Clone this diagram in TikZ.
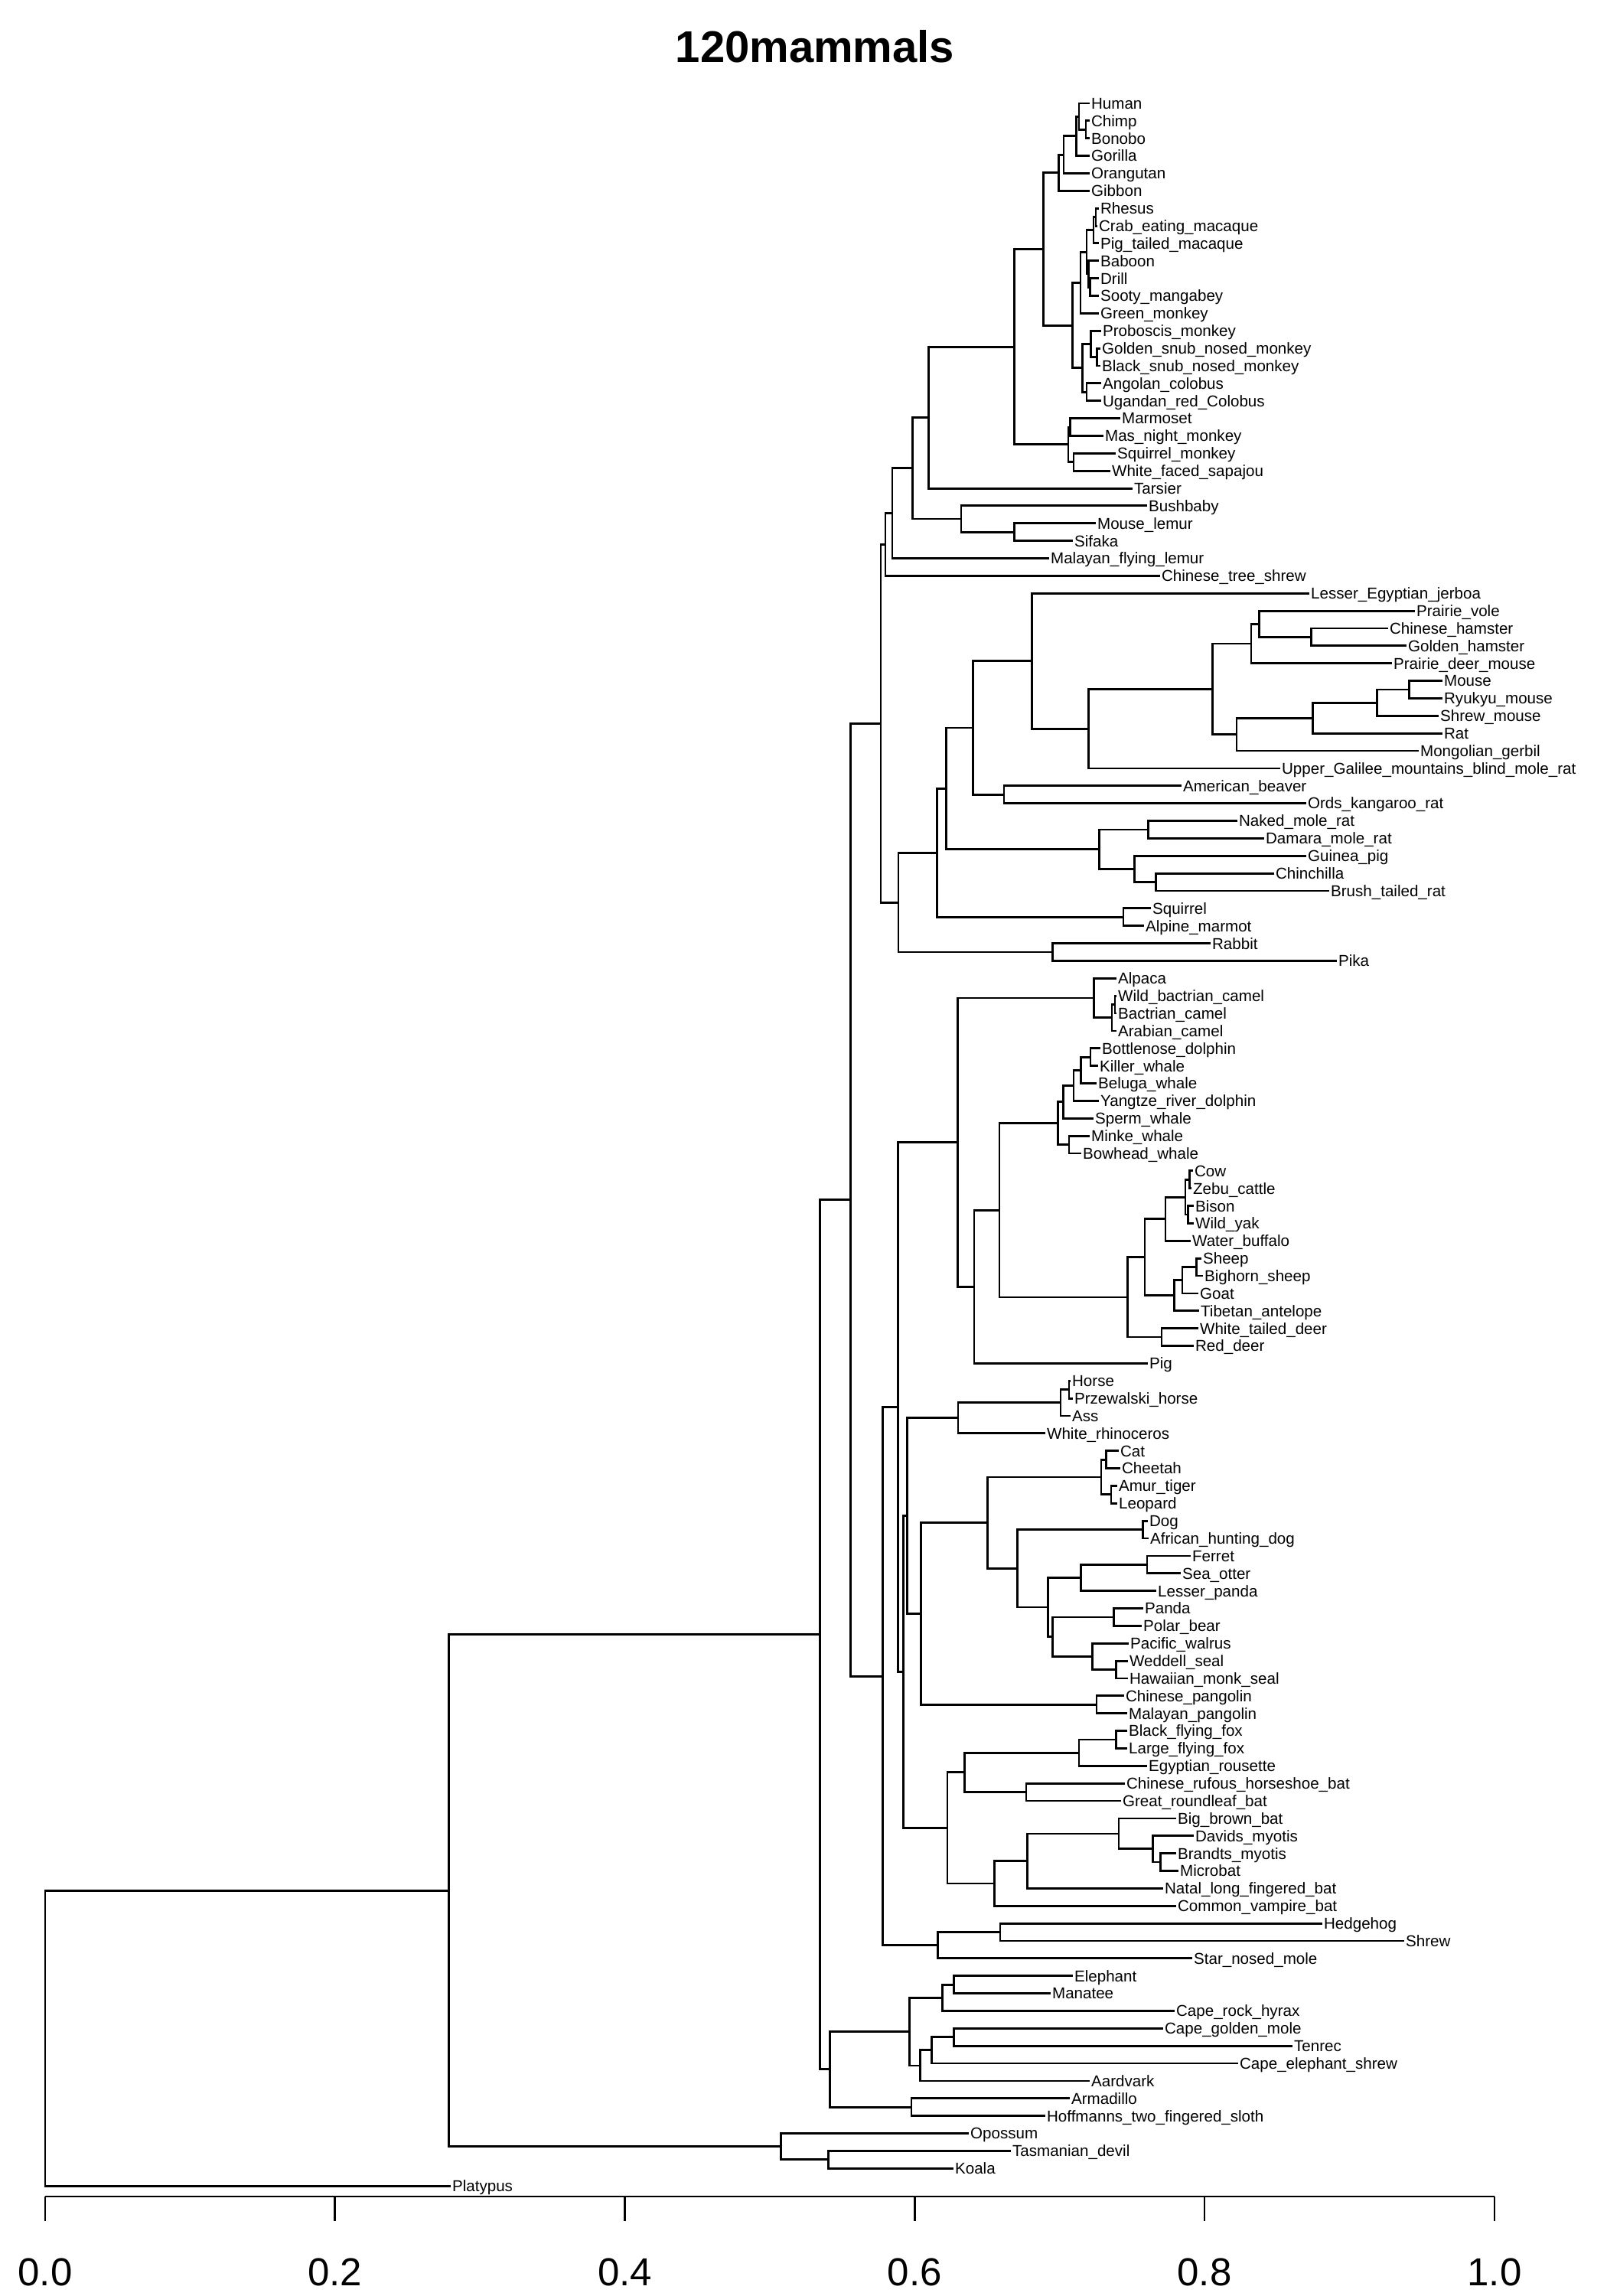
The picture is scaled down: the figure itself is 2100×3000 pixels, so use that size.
\documentclass[tikz,border=0pt]{standalone}
\usepackage{fontspec}
\setmainfont{Liberation Sans}
\usetikzlibrary{calc}

% internal node: name, x, first child, second child
\newcommand\clade[4]{%
  \path ($(#3)!.5!(#4)$) coordinate (#1-m);
  \coordinate (#1) at (#1-m -| #2,0);
  \draw[branch] (#1) |- (#3) (#1) |- (#4);}

\begin{document}
\begin{tikzpicture}[x=0.01cm,y=-0.01cm,
  branch/.style={line width=0.8pt},
  leaf/.style={anchor=west,inner xsep=0.6pt,inner ysep=0pt,outer sep=0pt,
    text height=4.2pt,text depth=0pt,font=\fontsize{5.85}{7}\selectfont},
  ticklabel/.style={inner sep=0pt,font=\fontsize{14.5}{17}\selectfont}]
\useasboundingbox (0,0) rectangle (2100,3000);
\node[inner sep=0pt,font=\bfseries\fontsize{16.5}{20}\selectfont] (title) at (1065,61) {120mammals};

% primates and relatives
\node[leaf] (human) at (1424,135.0) {Human};
\node[leaf] (chimp) at (1424,157.9) {Chimp};
\node[leaf] (bonobo) at (1424,180.7) {Bonobo};
\node[leaf] (gorilla) at (1424,203.6) {Gorilla};
\node[leaf] (orangutan) at (1424,226.5) {Orangutan};
\node[leaf] (gibbon) at (1424,249.3) {Gibbon};
\node[leaf] (rhesus) at (1436,272.2) {Rhesus};
\node[leaf] (crab) at (1434,295.1) {Crab\_eating\_macaque};
\node[leaf] (pigtailed) at (1436,317.9) {Pig\_tailed\_macaque};
\node[leaf] (baboon) at (1436,340.8) {Baboon};
\node[leaf] (drill) at (1436,363.7) {Drill};
\node[leaf] (sooty) at (1436,386.5) {Sooty\_mangabey};
\node[leaf] (greenmonkey) at (1436,409.4) {Green\_monkey};
\node[leaf] (proboscis) at (1439,432.3) {Proboscis\_monkey};
\node[leaf] (goldensnub) at (1438,455.1) {Golden\_snub\_nosed\_monkey};
\node[leaf] (blacksnub) at (1438,478.0) {Black\_snub\_nosed\_monkey};
\node[leaf] (angolan) at (1439,500.9) {Angolan\_colobus};
\node[leaf] (ugandan) at (1439,523.7) {Ugandan\_red\_Colobus};
\node[leaf] (marmoset) at (1464,546.6) {Marmoset};
\node[leaf] (nightmonkey) at (1442,569.5) {Mas\_night\_monkey};
\node[leaf] (squirrelmonkey) at (1458,592.3) {Squirrel\_monkey};
\node[leaf] (sapajou) at (1451,615.2) {White\_faced\_sapajou};
\node[leaf] (tarsier) at (1480,638.1) {Tarsier};
\node[leaf] (bushbaby) at (1499,660.9) {Bushbaby};
\node[leaf] (mouselemur) at (1432,683.8) {Mouse\_lemur};
\node[leaf] (sifaka) at (1402,706.7) {Sifaka};
\node[leaf] (flyinglemur) at (1371,729.5) {Malayan\_flying\_lemur};
\node[leaf] (treeshrew) at (1516,752.4) {Chinese\_tree\_shrew};
% rodents and lagomorphs
\node[leaf] (jerboa) at (1711,775.2) {Lesser\_Egyptian\_jerboa};
\node[leaf] (vole) at (1849,798.1) {Prairie\_vole};
\node[leaf] (chhamster) at (1814,821.0) {Chinese\_hamster};
\node[leaf] (gdhamster) at (1838,843.8) {Golden\_hamster};
\node[leaf] (deermouse) at (1819,866.7) {Prairie\_deer\_mouse};
\node[leaf] (mouse) at (1885,889.6) {Mouse};
\node[leaf] (ryukyu) at (1885,912.4) {Ryukyu\_mouse};
\node[leaf] (shrewmouse) at (1880,935.3) {Shrew\_mouse};
\node[leaf] (rat) at (1885,958.2) {Rat};
\node[leaf] (gerbil) at (1854,981.0) {Mongolian\_gerbil};
\node[leaf] (blindmolerat) at (1673,1003.9) {Upper\_Galilee\_mountains\_blind\_mole\_rat};
\node[leaf] (beaver) at (1544,1026.8) {American\_beaver};
\node[leaf] (kangaroorat) at (1707,1049.6) {Ords\_kangaroo\_rat};
\node[leaf] (nakedmolerat) at (1617,1072.5) {Naked\_mole\_rat};
\node[leaf] (damara) at (1652,1095.4) {Damara\_mole\_rat};
\node[leaf] (guineapig) at (1707,1118.2) {Guinea\_pig};
\node[leaf] (chinchilla) at (1665,1141.1) {Chinchilla};
\node[leaf] (brushtailed) at (1737,1164.0) {Brush\_tailed\_rat};
\node[leaf] (squirrel) at (1504,1186.8) {Squirrel};
\node[leaf] (marmot) at (1495,1209.7) {Alpine\_marmot};
\node[leaf] (rabbit) at (1582,1232.6) {Rabbit};
\node[leaf] (pika) at (1747,1255.4) {Pika};
% laurasiatheria
\node[leaf] (alpaca) at (1459,1278.3) {Alpaca};
\node[leaf] (wildcamel) at (1459,1301.2) {Wild\_bactrian\_camel};
\node[leaf] (bactrian) at (1459,1324.0) {Bactrian\_camel};
\node[leaf] (arabian) at (1459,1346.9) {Arabian\_camel};
\node[leaf] (bottlenose) at (1438,1369.8) {Bottlenose\_dolphin};
\node[leaf] (killerwhale) at (1435,1392.6) {Killer\_whale};
\node[leaf] (beluga) at (1433,1415.5) {Beluga\_whale};
\node[leaf] (yangtze) at (1436,1438.4) {Yangtze\_river\_dolphin};
\node[leaf] (spermwhale) at (1429,1461.2) {Sperm\_whale};
\node[leaf] (minke) at (1424,1484.1) {Minke\_whale};
\node[leaf] (bowhead) at (1413,1507.0) {Bowhead\_whale};
\node[leaf] (cow) at (1559,1529.8) {Cow};
\node[leaf] (zebu) at (1557,1552.7) {Zebu\_cattle};
\node[leaf] (bison) at (1560,1575.6) {Bison};
\node[leaf] (yak) at (1560,1598.4) {Wild\_yak};
\node[leaf] (buffalo) at (1556,1621.3) {Water\_buffalo};
\node[leaf] (sheep) at (1570,1644.2) {Sheep};
\node[leaf] (bighorn) at (1572,1667.0) {Bighorn\_sheep};
\node[leaf] (goat) at (1566,1689.9) {Goat};
\node[leaf] (tibetan) at (1567,1712.8) {Tibetan\_antelope};
\node[leaf] (whitetailed) at (1566,1735.6) {White\_tailed\_deer};
\node[leaf] (reddeer) at (1560,1758.5) {Red\_deer};
\node[leaf] (pig) at (1500,1781.4) {Pig};
\node[leaf] (horse) at (1399,1804.2) {Horse};
\node[leaf] (przewalski) at (1402,1827.1) {Przewalski\_horse};
\node[leaf] (ass) at (1399,1850.0) {Ass};
\node[leaf] (rhino) at (1366,1872.8) {White\_rhinoceros};
\node[leaf] (cat) at (1462,1895.7) {Cat};
\node[leaf] (cheetah) at (1464,1918.5) {Cheetah};
\node[leaf] (tiger) at (1460,1941.4) {Amur\_tiger};
\node[leaf] (leopard) at (1460,1964.3) {Leopard};
\node[leaf] (dog) at (1500,1987.1) {Dog};
\node[leaf] (huntingdog) at (1501,2010.0) {African\_hunting\_dog};
\node[leaf] (ferret) at (1556,2032.9) {Ferret};
\node[leaf] (seaotter) at (1543,2055.7) {Sea\_otter};
\node[leaf] (lesserpanda) at (1511,2078.6) {Lesser\_panda};
\node[leaf] (panda) at (1494,2101.5) {Panda};
\node[leaf] (polarbear) at (1492,2124.3) {Polar\_bear};
\node[leaf] (walrus) at (1475,2147.2) {Pacific\_walrus};
\node[leaf] (weddell) at (1474,2170.1) {Weddell\_seal};
\node[leaf] (monkseal) at (1474,2192.9) {Hawaiian\_monk\_seal};
\node[leaf] (chpangolin) at (1469,2215.8) {Chinese\_pangolin};
\node[leaf] (mypangolin) at (1473,2238.7) {Malayan\_pangolin};
\node[leaf] (blackfox) at (1473,2261.5) {Black\_flying\_fox};
\node[leaf] (largefox) at (1473,2284.4) {Large\_flying\_fox};
\node[leaf] (rousette) at (1499,2307.3) {Egyptian\_rousette};
\node[leaf] (horseshoe) at (1470,2330.1) {Chinese\_rufous\_horseshoe\_bat};
\node[leaf] (roundleaf) at (1465,2353.0) {Great\_roundleaf\_bat};
\node[leaf] (bigbrown) at (1537,2375.9) {Big\_brown\_bat};
\node[leaf] (davids) at (1560,2398.7) {Davids\_myotis};
\node[leaf] (brandts) at (1537,2421.6) {Brandts\_myotis};
\node[leaf] (microbat) at (1540,2444.5) {Microbat};
\node[leaf] (natal) at (1520,2467.3) {Natal\_long\_fingered\_bat};
\node[leaf] (vampire) at (1537,2490.2) {Common\_vampire\_bat};
\node[leaf] (hedgehog) at (1728,2513.1) {Hedgehog};
\node[leaf] (shrew) at (1835,2535.9) {Shrew};
\node[leaf] (starnosed) at (1558,2558.8) {Star\_nosed\_mole};
% afrotheria, xenarthra, marsupials, monotreme
\node[leaf] (elephant) at (1402,2581.7) {Elephant};
\node[leaf] (manatee) at (1373,2604.5) {Manatee};
\node[leaf] (hyrax) at (1535,2627.4) {Cape\_rock\_hyrax};
\node[leaf] (goldenmole) at (1520,2650.3) {Cape\_golden\_mole};
\node[leaf] (tenrec) at (1689,2673.1) {Tenrec};
\node[leaf] (elephantshrew) at (1618,2696.0) {Cape\_elephant\_shrew};
\node[leaf] (aardvark) at (1424,2718.9) {Aardvark};
\node[leaf] (armadillo) at (1398,2741.7) {Armadillo};
\node[leaf] (sloth) at (1366,2764.6) {Hoffmanns\_two\_fingered\_sloth};
\node[leaf] (opossum) at (1266,2787.5) {Opossum};
\node[leaf] (devil) at (1321,2810.3) {Tasmanian\_devil};
\node[leaf] (koala) at (1246,2833.2) {Koala};
\node[leaf] (platypus) at (589,2856.1) {Platypus};

% internal nodes, children first
\clade{pan}{1419}{chimp}{bonobo}
\clade{hp}{1410}{human}{pan}
\clade{homininae}{1406.6}{hp}{gorilla}
\clade{hominidae}{1390}{homininae}{orangutan}
\clade{hominoidea}{1383.6}{hominidae}{gibbon}
\clade{rc}{1432}{rhesus}{crab}
\clade{macaca}{1429}{rc}{pigtailed}
\clade{ds}{1424.7}{drill}{sooty}
\clade{bds}{1422.8}{baboon}{ds}
\clade{papionini}{1420}{macaca}{bds}
\clade{cercopithecinae}{1412}{papionini}{greenmonkey}
\clade{snub}{1433.8}{goldensnub}{blacksnub}
\clade{rhinopith}{1425.7}{proboscis}{snub}
\clade{colobus}{1420}{angolan}{ugandan}
\clade{colobinae}{1414.7}{rhinopith}{colobus}
\clade{cercopithecidae}{1401.8}{cercopithecinae}{colobinae}
\clade{catarrhini}{1363.5}{hominoidea}{cercopithecidae}
\clade{callitrich}{1398.4}{marmoset}{nightmonkey}
\clade{cebidae}{1403}{squirrelmonkey}{sapajou}
\clade{platyrrhini}{1396}{callitrich}{cebidae}
\clade{anthropoidea}{1325.3}{catarrhini}{platyrrhini}
\clade{haplorhini}{1213.3}{anthropoidea}{tarsier}
\clade{lemurs}{1325.3}{mouselemur}{sifaka}
\clade{strepsirrhini}{1255.9}{bushbaby}{lemurs}
\clade{primates}{1192.8}{haplorhini}{strepsirrhini}
\clade{primatomorpha}{1166}{primates}{flyinglemur}
\clade{euarchonta}{1156.9}{primatomorpha}{treeshrew}

\clade{hamsters}{1713.4}{chhamster}{gdhamster}
\clade{arvicolinae}{1645.4}{vole}{hamsters}
\clade{cricetidae}{1634.9}{arvicolinae}{deermouse}
\clade{mus}{1841.8}{mouse}{ryukyu}
\clade{mice}{1799.7}{mus}{shrewmouse}
\clade{murinae}{1715.5}{mice}{rat}
\clade{muridae}{1616}{murinae}{gerbil}
\clade{eumuroida}{1584.3}{cricetidae}{muridae}
\clade{muroidea}{1422.3}{eumuroida}{blindmolerat}
\clade{myomorpha}{1348.7}{jerboa}{muroidea}
\clade{castorimorpha}{1312}{beaver}{kangaroorat}
\clade{mouserel}{1271.5}{myomorpha}{castorimorpha}
\clade{molerats}{1500.2}{nakedmolerat}{damara}
\clade{chinbrush}{1510.7}{chinchilla}{brushtailed}
\clade{caviomorpha}{1482.6}{guineapig}{chinbrush}
\clade{hystricomorpha}{1436.3}{molerats}{caviomorpha}
\clade{rodcore}{1236.4}{mouserel}{hystricomorpha}
\clade{sciuridae}{1468}{squirrel}{marmot}
\clade{rodentia}{1224.5}{rodcore}{sciuridae}
\clade{lagomorpha}{1375.3}{rabbit}{pika}
\clade{glires}{1174}{rodentia}{lagomorpha}
\clade{euarchontoglires}{1151}{euarchonta}{glires}

\clade{bactrians}{1457}{wildcamel}{bactrian}
\clade{camels}{1453}{bactrians}{arabian}
\clade{camelidae}{1429.6}{alpaca}{camels}
\clade{bk}{1425}{bottlenose}{killerwhale}
\clade{delphinoidea}{1412.2}{bk}{beluga}
\clade{dolphins}{1403}{delphinoidea}{yangtze}
\clade{odontoceti}{1389.3}{dolphins}{spermwhale}
\clade{mysticeti}{1397}{minke}{bowhead}
\clade{cetacea}{1382.7}{odontoceti}{mysticeti}
\clade{cz}{1554.6}{cow}{zebu}
\clade{by}{1552.6}{bison}{yak}
\clade{bos}{1549}{cz}{by}
\clade{bovinae}{1523}{bos}{buffalo}
\clade{ovis}{1563.8}{sheep}{bighorn}
\clade{caprini}{1544.9}{ovis}{goat}
\clade{caprinae}{1534.7}{caprini}{tibetan}
\clade{bovidae}{1495.9}{bovinae}{caprinae}
\clade{cervidae}{1517.9}{whitetailed}{reddeer}
\clade{ruminantia}{1473.5}{bovidae}{cervidae}
\clade{cetrum}{1306}{cetacea}{ruminantia}
\clade{artiofabula}{1273}{cetrum}{pig}
\clade{cetartiodactyla}{1251.5}{camelidae}{artiofabula}
\clade{horses}{1397}{horse}{przewalski}
\clade{equidae}{1386}{horses}{ass}
\clade{perissodactyla}{1252}{equidae}{rhino}
\clade{cc}{1445.8}{cat}{cheetah}
\clade{panthera}{1452}{tiger}{leopard}
\clade{felidae}{1439}{cc}{panthera}
\clade{canidae}{1493.6}{dog}{huntingdog}
\clade{mustelidae}{1498.9}{ferret}{seaotter}
\clade{musteloidea}{1412.3}{mustelidae}{lesserpanda}
\clade{ursidae}{1455.4}{panda}{polarbear}
\clade{phocidae}{1458.2}{weddell}{monkseal}
\clade{pinnipedia}{1427.1}{walrus}{phocidae}
\clade{ursipinn}{1375.5}{ursidae}{pinnipedia}
\clade{arctoidea}{1369.7}{musteloidea}{ursipinn}
\clade{caniformia}{1329.1}{canidae}{arctoidea}
\clade{carnivora}{1290.8}{felidae}{caniformia}
\clade{pholidota}{1432.9}{chpangolin}{mypangolin}
\clade{ferae}{1203.3}{carnivora}{pholidota}
\clade{zooamata}{1185.6}{perissodactyla}{ferae}
\clade{pteropus}{1458.2}{blackfox}{largefox}
\clade{pteropodidae}{1409.9}{pteropus}{rousette}
\clade{rhinolophoidea}{1341}{horseshoe}{roundleaf}
\clade{yinptero}{1260.7}{pteropodidae}{rhinolophoidea}
\clade{bm}{1516.6}{brandts}{microbat}
\clade{myotis}{1506.3}{davids}{bm}
\clade{vesper}{1462}{bigbrown}{myotis}
\clade{vespnatal}{1342.7}{vesper}{natal}
\clade{yango}{1299.6}{vespnatal}{vampire}
\clade{chiroptera}{1238}{yinptero}{yango}
\clade{fereuungulata}{1180.5}{zooamata}{chiroptera}
\clade{scrotifera}{1173.5}{cetartiodactyla}{fereuungulata}
\clade{hs}{1307}{hedgehog}{shrew}
\clade{eulipotyphla}{1225.6}{hs}{starnosed}
\clade{laurasiatheria}{1153.5}{scrotifera}{eulipotyphla}
\clade{boreoeutheria}{1111.7}{euarchontoglires}{laurasiatheria}

\clade{tethytheria}{1246.8}{elephant}{manatee}
\clade{paenungulata}{1231.3}{tethytheria}{hyrax}
\clade{afrosoricida}{1246.1}{goldenmole}{tenrec}
\clade{afroinsectivora}{1217.4}{afrosoricida}{elephantshrew}
\clade{afroinsectiphilia}{1202.5}{afroinsectivora}{aardvark}
\clade{afrotheria}{1188.7}{paenungulata}{afroinsectiphilia}
\clade{xenarthra}{1191}{armadillo}{sloth}
\clade{atlantogenata}{1084.8}{afrotheria}{xenarthra}
\clade{eutheria}{1071.7}{boreoeutheria}{atlantogenata}
\clade{australidelphia}{1082.5}{devil}{koala}
\clade{marsupialia}{1020.5}{opossum}{australidelphia}
\clade{theria}{586.6}{eutheria}{marsupialia}
\clade{root}{59}{theria}{platypus}

% scale
\draw[branch] (59,2870) -- (1953,2870);
\draw[branch] (59,2870) -- (59,2902)
  (437.7,2870) -- (437.7,2902)
  (816.5,2870) -- (816.5,2902)
  (1195.2,2870) -- (1195.2,2902)
  (1574,2870) -- (1574,2902)
  (1953,2870) -- (1953,2902);
\node[ticklabel] (s0) at (59,2969) {0.0};
\node[ticklabel] (s2) at (437.7,2969) {0.2};
\node[ticklabel] (s4) at (816.5,2969) {0.4};
\node[ticklabel] (s6) at (1195.2,2969) {0.6};
\node[ticklabel] (s8) at (1574,2969) {0.8};
\node[ticklabel] (s10) at (1953,2969) {1.0};
\end{tikzpicture}
\end{document}
